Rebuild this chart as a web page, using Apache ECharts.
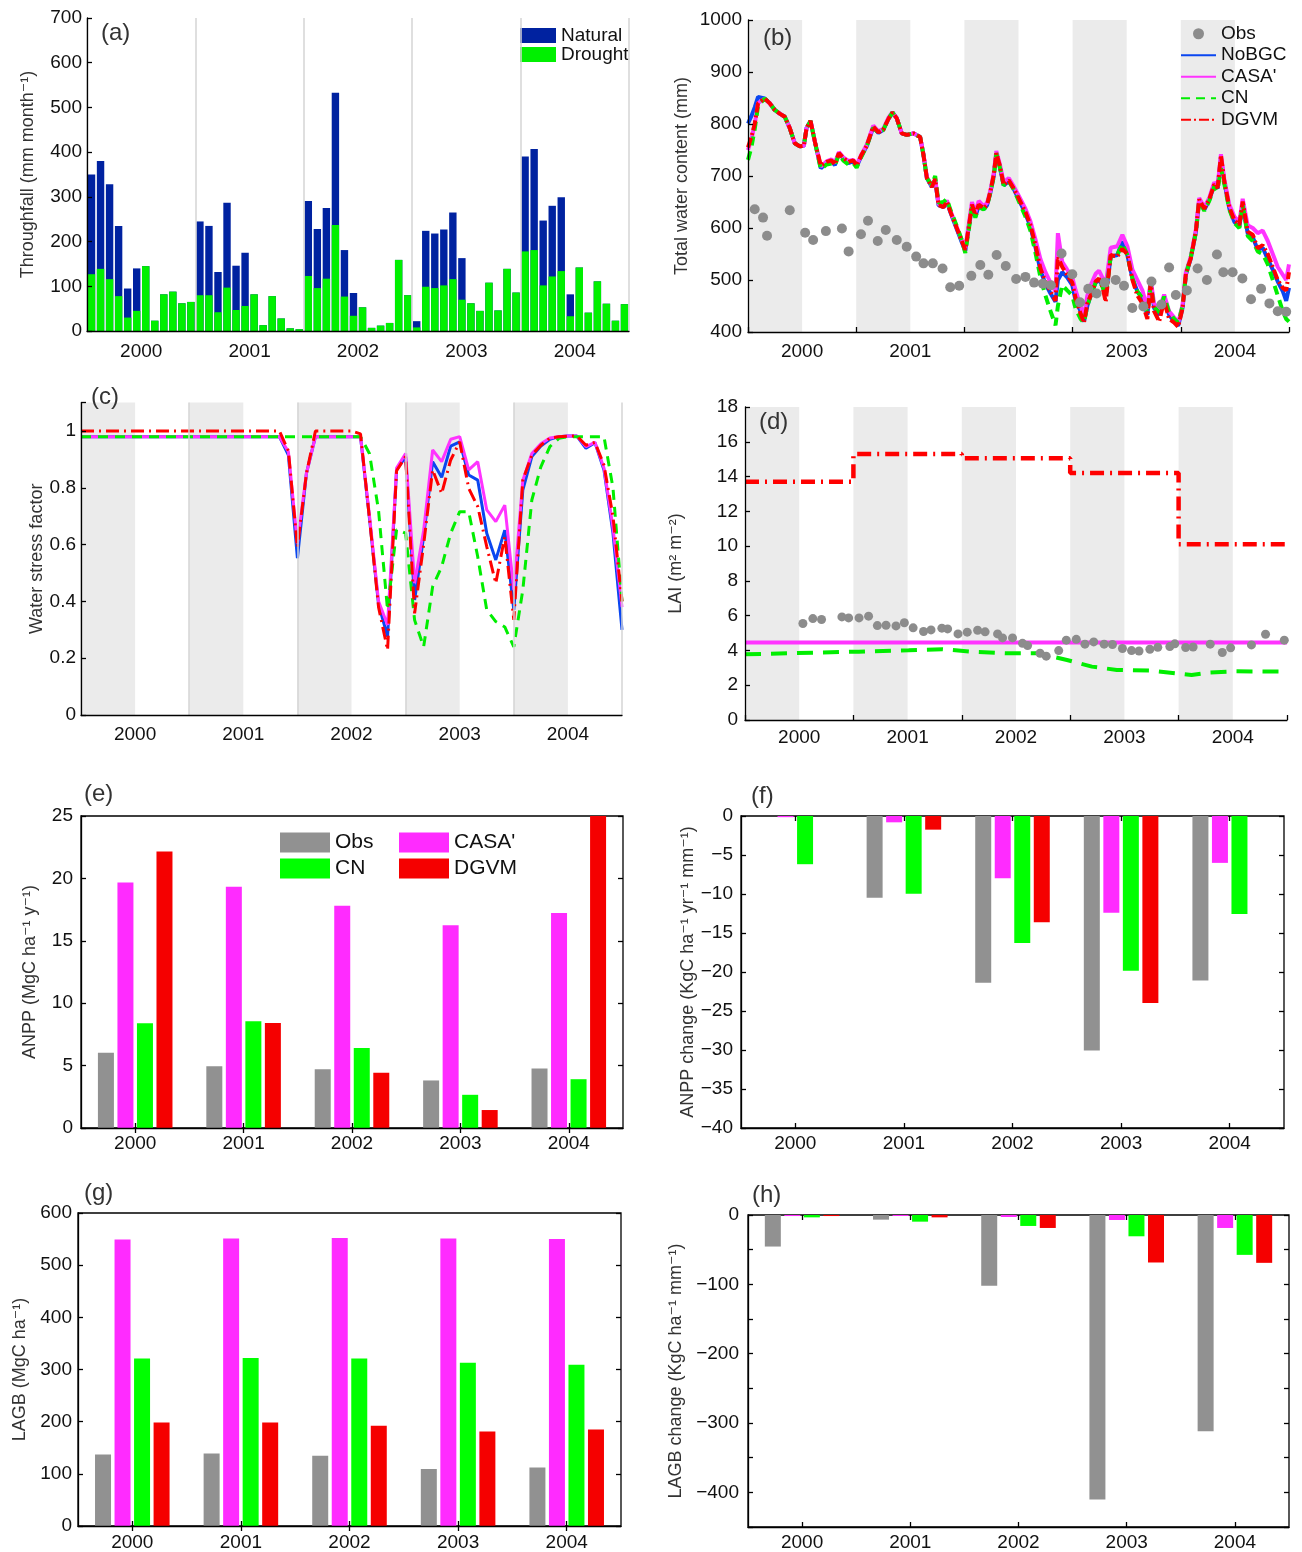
<!DOCTYPE html>
<html>
<head>
<meta charset="utf-8">
<script src="https://cdn.jsdelivr.net/npm/echarts@6/dist/echarts.min.js"></script>
<style>
  html, body { margin: 0; padding: 0; background: #fff; }
  #main { width: 1302px; height: 1552px; }
</style>
</head>
<body>
<div id="main"></div>
<script>
var FONT = '"Liberation Sans", Arial, Helvetica, "DejaVu Sans", sans-serif';
var TXT = '#111';
var AX = '#000';

var years = ['2000', '2001', '2002', '2003', '2004'];
// wet season (Jan-Jun) shading in b, c, d
var wetSeasons = [[2000, 2000.5], [2001, 2001.5], [2002, 2002.5], [2003, 2003.5], [2004, 2004.5]];

// (a) monthly throughfall, Jan 2000 .. Dec 2004
var tfNatural = [
  350, 380, 328, 235, 95, 140, 145, 23, 82, 88, 62, 65,
  245, 235, 132, 287, 146, 175, 82, 13, 78, 28, 6, 4,
  291, 228, 275, 533, 181, 85, 53, 7, 12, 18, 159, 80,
  22, 224, 218, 227, 265, 163, 62, 45, 108, 46, 139, 86,
  390, 407, 247, 280, 299, 82, 142, 41, 111, 61, 23, 60];
var tfDrought = [
  127, 139, 116, 78, 30, 45, 145, 23, 82, 88, 62, 65,
  80, 80, 42, 97, 47, 56, 82, 13, 78, 28, 6, 4,
  123, 96, 117, 237, 77, 34, 53, 7, 12, 18, 159, 80,
  8, 99, 96, 102, 116, 70, 62, 45, 108, 46, 139, 86,
  178, 181, 102, 122, 134, 33, 142, 41, 111, 61, 23, 60];

// (b) total water content (mm)
var twcTime = [
  2000.000, 2000.031, 2000.062, 2000.093, 2000.154, 2000.201, 2000.247, 2000.293, 2000.340, 2000.386,
  2000.432, 2000.479, 2000.516, 2000.541, 2000.578, 2000.618, 2000.673, 2000.726, 2000.772, 2000.803,
  2000.840, 2000.880, 2000.927, 2000.973, 2001.004, 2001.050, 2001.097, 2001.158, 2001.205, 2001.251,
  2001.298, 2001.335, 2001.375, 2001.421, 2001.467, 2001.529, 2001.591, 2001.622, 2001.653, 2001.699,
  2001.730, 2001.761, 2001.807, 2001.838, 2001.869, 2001.931, 2001.977, 2002.008, 2002.039, 2002.070,
  2002.101, 2002.132, 2002.178, 2002.209, 2002.240, 2002.271, 2002.295, 2002.326, 2002.363, 2002.410,
  2002.456, 2002.502, 2002.564, 2002.610, 2002.657, 2002.703, 2002.749, 2002.796, 2002.842, 2002.864,
  2002.904, 2002.950, 2002.997, 2003.028, 2003.074, 2003.105, 2003.136, 2003.167, 2003.213, 2003.244,
  2003.275, 2003.306, 2003.352, 2003.413, 2003.460, 2003.506, 2003.553, 2003.599, 2003.645, 2003.691,
  2003.722, 2003.753, 2003.800, 2003.846, 2003.892, 2003.939, 2003.976, 2004.016, 2004.047, 2004.093,
  2004.140, 2004.170, 2004.217, 2004.263, 2004.309, 2004.340, 2004.371, 2004.402, 2004.448, 2004.495,
  2004.541, 2004.572, 2004.618, 2004.665, 2004.711, 2004.757, 2004.804, 2004.850, 2004.896, 2004.943,
  2004.974, 2005.000];
var twcNoBGC = [
  801, 815, 832, 852, 849, 840, 827, 820, 814, 792,
  763, 757, 758, 792, 806, 766, 715, 725, 728, 721,
  744, 734, 725, 728, 718, 740, 757, 794, 783, 789,
  810, 822, 811, 782, 779, 782, 775, 740, 696, 679,
  692, 644, 640, 651, 631, 597, 572, 556, 599, 640,
  622, 642, 636, 644, 668, 700, 742, 719, 682, 690,
  675, 655, 628, 603, 563, 518, 493, 474, 458, 500,
  515, 505, 490, 460, 440, 420, 450, 470, 495, 500,
  490, 470, 545, 548, 574, 548, 503, 478, 465, 433,
  497, 446, 433, 465, 433, 420, 412, 446, 510, 542,
  593, 654, 635, 654, 683, 676, 735, 689, 638, 612,
  602, 646, 590, 582, 558, 562, 540, 520, 497, 478,
  460, 485];
var twcCASA = [
  750, 770, 800, 840, 849, 840, 827, 820, 814, 792,
  763, 757, 758, 792, 806, 766, 718, 728, 732, 725,
  746, 736, 729, 731, 721, 742, 760, 797, 786, 791,
  812, 823, 811, 782, 779, 782, 775, 742, 698, 681,
  694, 646, 642, 653, 634, 601, 576, 560, 605, 650,
  630, 652, 642, 648, 672, 705, 748, 724, 688, 696,
  680, 662, 637, 613, 578, 540, 515, 495, 478, 590,
  535, 520, 505, 480, 450, 430, 470, 490, 512, 518,
  505, 490, 562, 565, 587, 565, 520, 500, 480, 445,
  500, 455, 442, 472, 440, 428, 418, 452, 515, 545,
  598, 658, 640, 658, 688, 680, 742, 694, 645, 622,
  612, 656, 605, 600, 590, 595, 575, 550, 525, 510,
  500, 530];
var twcCN = [
  731, 755, 790, 835, 849, 840, 827, 820, 814, 792,
  763, 757, 758, 792, 806, 766, 713, 722, 724, 720,
  742, 730, 722, 725, 716, 738, 757, 793, 783, 789,
  810, 822, 811, 782, 779, 782, 775, 740, 696, 683,
  700, 648, 650, 656, 636, 603, 576, 552, 595, 640,
  620, 640, 636, 642, 668, 698, 744, 718, 682, 690,
  674, 652, 622, 595, 552, 505, 470, 440, 413, 450,
  490, 480, 470, 445, 425, 418, 450, 470, 495, 498,
  488, 470, 545, 548, 570, 548, 503, 478, 465, 438,
  490, 448, 438, 468, 438, 425, 418, 450, 510, 545,
  592, 652, 633, 652, 680, 672, 715, 685, 636, 610,
  600, 645, 585, 575, 555, 550, 530, 500, 470, 440,
  425, 420];
var twcDGVM = [
  755, 775, 800, 840, 849, 840, 827, 820, 814, 792,
  763, 757, 758, 792, 806, 766, 720, 727, 730, 722,
  744, 735, 727, 730, 720, 741, 758, 795, 784, 789,
  810, 822, 811, 782, 779, 782, 775, 740, 696, 679,
  694, 644, 640, 651, 632, 599, 574, 558, 600, 645,
  625, 645, 638, 644, 670, 702, 744, 721, 683, 692,
  676, 657, 631, 606, 567, 522, 497, 478, 460, 545,
  525, 510, 495, 465, 435, 418, 455, 470, 497, 503,
  488, 458, 548, 545, 560, 550, 500, 470, 455, 425,
  495, 440, 420, 460, 425, 418, 410, 445, 512, 542,
  595, 655, 637, 655, 684, 677, 740, 690, 640, 615,
  606, 651, 593, 587, 561, 567, 550, 525, 500, 485,
  480, 515];
var twcObsTime = [
  2000.062, 2000.139, 2000.176, 2000.386, 2000.528, 2000.602, 2000.720, 2000.868, 2000.930, 2001.044,
  2001.109, 2001.199, 2001.273, 2001.375, 2001.467, 2001.554, 2001.622, 2001.708, 2001.798, 2001.869,
  2001.952, 2002.064, 2002.147, 2002.221, 2002.298, 2002.382, 2002.478, 2002.564, 2002.644, 2002.725,
  2002.799, 2002.898, 2002.997, 2003.068, 2003.145, 2003.222, 2003.296, 2003.398, 2003.475, 2003.552,
  2003.654, 2003.729, 2003.821, 2003.892, 2003.954, 2004.056, 2004.155, 2004.241, 2004.334, 2004.393,
  2004.479, 2004.569, 2004.649, 2004.742, 2004.819, 2004.896, 2004.974];
var twcObs = [
  636, 620, 585, 634, 591, 577, 594, 599, 555, 588,
  614, 575, 596, 577, 564, 545, 532, 532, 522, 486,
  489, 508, 529, 510, 548, 527, 502, 506, 495, 493,
  490, 551, 511, 457, 483, 474, 495, 500, 489, 446,
  449, 497, 453, 524, 471, 480, 522, 500, 549, 515,
  515, 503, 463, 483, 455, 440, 439];

// (c) water stress factor, monthly from Jan 2000 to Jan 2005
var wsNoBGC = [
  0.98, 0.98, 0.98, 0.98, 0.98, 0.98, 0.98, 0.98, 0.98, 0.98, 0.98, 0.98,
  0.98, 0.98, 0.98, 0.98, 0.98, 0.98, 0.98, 0.98, 0.98, 0.98, 0.98, 0.915,
  0.552, 0.851, 0.98, 0.98, 0.98, 0.98, 0.98, 0.98, 0.69, 0.39, 0.276, 0.863,
  0.91, 0.405, 0.628, 0.892, 0.837, 0.947, 0.962, 0.845, 0.827, 0.64, 0.546, 0.651,
  0.37, 0.792, 0.91, 0.947, 0.971, 0.98, 0.982, 0.982, 0.939, 0.959, 0.863, 0.64,
  0.30];
var wsCASA = [
  0.98, 0.98, 0.98, 0.98, 0.98, 0.98, 0.98, 0.98, 0.98, 0.98, 0.98, 0.98,
  0.98, 0.98, 0.98, 0.98, 0.98, 0.98, 0.98, 0.98, 0.98, 0.98, 0.98, 0.927,
  0.604, 0.851, 0.98, 0.98, 0.98, 0.98, 0.98, 0.98, 0.70, 0.40, 0.317, 0.87,
  0.921, 0.464, 0.65, 0.933, 0.892, 0.971, 0.98, 0.863, 0.892, 0.722, 0.681, 0.739,
  0.44, 0.827, 0.921, 0.955, 0.975, 0.98, 0.982, 0.982, 0.945, 0.96, 0.87, 0.66,
  0.38];
var wsCN = [
  0.98, 0.98, 0.98, 0.98, 0.98, 0.98, 0.98, 0.98, 0.98, 0.98, 0.98, 0.98,
  0.98, 0.98, 0.98, 0.98, 0.98, 0.98, 0.98, 0.98, 0.98, 0.98, 0.98, 0.98,
  0.98, 0.98, 0.98, 0.98, 0.98, 0.98, 0.98, 0.98, 0.92, 0.72, 0.37, 0.653,
  0.64, 0.334, 0.24, 0.452, 0.522, 0.64, 0.716, 0.716, 0.557, 0.37, 0.329, 0.31,
  0.24, 0.44, 0.757, 0.874, 0.945, 0.974, 0.98, 0.98, 0.98, 0.98, 0.98, 0.80,
  0.40];
var wsDGVM = [
  1.0, 1.0, 1.0, 1.0, 1.0, 1.0, 1.0, 1.0, 1.0, 1.0, 1.0, 1.0,
  1.0, 1.0, 1.0, 1.0, 1.0, 1.0, 1.0, 1.0, 1.0, 1.0, 1.0, 0.93,
  0.59, 0.85, 1.0, 1.0, 1.0, 1.0, 1.0, 0.99, 0.69, 0.38, 0.229, 0.86,
  0.91, 0.358, 0.60, 0.863, 0.78, 0.898, 0.962, 0.798, 0.734, 0.593, 0.464, 0.628,
  0.335, 0.827, 0.915, 0.95, 0.975, 0.98, 0.982, 0.982, 0.95, 0.96, 0.88, 0.70,
  0.40];

// (d) LAI
var laiObsTime = [
  2000.534, 2000.626, 2000.706, 2000.894, 2000.956, 2001.052, 2001.140, 2001.221, 2001.301, 2001.393,
  2001.470, 2001.551, 2001.647, 2001.716, 2001.816, 2001.869, 2001.965, 2002.050, 2002.146, 2002.215,
  2002.330, 2002.376, 2002.468, 2002.560, 2002.607, 2002.722, 2002.779, 2002.894, 2002.964, 2003.056,
  2003.136, 2003.217, 2003.313, 2003.390, 2003.482, 2003.566, 2003.635, 2003.735, 2003.808, 2003.919,
  2003.965, 2004.065, 2004.134, 2004.292, 2004.403, 2004.480, 2004.672, 2004.802, 2004.975];
var laiObs = [
  5.55, 5.83, 5.78, 5.93, 5.87, 5.87, 5.97, 5.43, 5.45, 5.41,
  5.59, 5.30, 5.09, 5.18, 5.28, 5.24, 4.95, 5.05, 5.16, 5.07,
  4.95, 4.72, 4.72, 4.41, 4.28, 3.84, 3.67, 3.99, 4.59, 4.64,
  4.36, 4.49, 4.36, 4.34, 4.11, 3.99, 3.97, 4.07, 4.18, 4.22,
  4.38, 4.17, 4.20, 4.36, 3.88, 4.15, 4.32, 4.93, 4.59];
var laiCASATime = [2000, 2005];
var laiCASA = [4.45, 4.45];
var laiCNTime = [2000.0, 2000.67, 2001.05, 2001.51, 2001.82, 2002.09, 2002.40, 2002.70, 2002.97,
  2003.20, 2003.43, 2003.74, 2003.97, 2004.12, 2004.28, 2004.51, 2005.0];
var laiCN = [3.78, 3.88, 3.93, 4.01, 4.07, 3.93, 3.84, 3.84, 3.45, 3.07, 2.88, 2.84, 2.69, 2.59, 2.73, 2.80, 2.78];
var laiDGVMTime = [2000, 2001, 2002, 2003, 2004, 2005];
var laiDGVM = [13.7, 15.3, 15.05, 14.2, 10.1, 10.1];

// (e) ANPP (MgC ha-1 y-1)
var anppObs = [6.02, 4.95, 4.71, 3.81, 4.77];
var anppCASA = [19.67, 19.33, 17.81, 16.24, 17.23];
var anppCN = [8.39, 8.55, 6.42, 2.66, 3.91];
var anppDGVM = [22.15, 8.41, 4.42, 1.44, 25];
// (f) ANPP change
var anppChgObs = [null, -10.48, -21.38, -30.08, -21.09];
var anppChgCASA = [-0.15, -0.81, -7.97, -12.40, -6.01];
var anppChgCN = [-6.18, -9.97, -16.27, -19.85, -12.57];
var anppChgDGVM = [0.25, -1.75, -13.63, -23.98, null];
// (g) LAGB (MgC ha-1)
var lagbObs = [137, 139, 134.5, 109.5, 112];
var lagbCASA = [549, 551, 552, 551, 550];
var lagbCN = [321, 322, 321, 313, 309];
var lagbDGVM = [198.5, 198.5, 192, 181, 185];
// (h) LAGB change
var lagbChgObs = [-45.5, -6.7, -102, -410.5, -311.9];
var lagbChgCASA = [-1.5, -1.4, -2.9, -7.2, -18.7];
var lagbChgCN = [-3.4, -9.6, -15.8, -30.7, -57.5];
var lagbChgDGVM = [-1.5, -3.4, -18.7, -68.5, -69];

var C_BLUE = '#0a46f0', C_MAG = '#ff33ff', C_GREEN = '#00ee00', C_RED = '#ff0000', C_GRAY = '#8c8c8c';
var C_BAR_GRAY = '#919191', C_BAR_MAG = '#ff2bff', C_BAR_GREEN = '#00ff00', C_BAR_RED = '#f50000';

function pairs(xs, ys) {
  return xs.map(function (x, i) { return [x, ys[i]]; });
}
function monthMid(vals) {
  return vals.map(function (v, i) { return [2000 + (i + 0.5) / 12, v]; });
}
function monthStart(vals) {
  return vals.map(function (v, i) { return [2000 + i / 12, v]; });
}
function midYearLabel(v) {
  var f = Math.floor(v + 1e-9);
  return Math.abs(v - f - 0.5) < 1e-6 ? String(f) : '';
}
function plainLabel(v) {
  return String(v);
}
function minusLabel(v) {
  return v < 0 ? '\u2212' + (-v) : String(v);
}

var myChart = echarts.init(document.getElementById('main'));

var boxGrid = {show: true, borderColor: AX, borderWidth: 1.3, backgroundColor: 'transparent'};
function grid(l, t, w, h, box) {
  var g = {left: l, top: t, width: w, height: h, containLabel: false, outerBoundsMode: 'none'};
  if (box) { for (var k in boxGrid) g[k] = boxGrid[k]; }
  return g;
}
var grids = [
  grid(87, 18, 542, 313),          // a
  grid(748, 20, 541, 312),         // b
  grid(81, 402.6, 541, 312.4),     // c
  grid(745, 407, 542, 313),        // d
  grid(81, 816, 542, 312, true),   // e
  grid(741, 816, 543, 312, true),  // f
  grid(78, 1213, 543, 313, true),  // g
  grid(748, 1215, 541, 312, true)  // h
];

var xAxes = [];
var yAxes = [];
var tickStyle = {color: AX, width: 1.3};

// time panels: one axis for line/ticks/splitlines, one for mid-year labels
function addTimeX(gi, ticks, split, margin) {
  xAxes.push({
    type: 'value', gridIndex: gi, position: 'bottom', min: 2000, max: 2005, interval: 1, z: 5,
    axisLine: {show: true, onZero: false, lineStyle: {color: AX, width: 1.3}},
    axisTick: {show: ticks, inside: true, length: 5, lineStyle: tickStyle},
    axisLabel: {show: false},
    splitLine: {show: split, lineStyle: {color: '#d4d4d4', width: 1.5}}
  });
  xAxes.push({
    type: 'value', gridIndex: gi, position: 'bottom', min: 2000, max: 2005, interval: 0.5,
    axisLine: {show: false}, axisTick: {show: false}, splitLine: {show: false},
    axisLabel: {show: true, color: TXT, fontSize: 19, fontFamily: FONT, margin: margin, formatter: midYearLabel}
  });
}
function addCatX(gi, margin) {
  xAxes.push({
    type: 'category', gridIndex: gi, position: 'bottom', data: years, z: 5,
    axisLine: {show: true, onZero: false, lineStyle: {color: AX, width: 1.3}},
    axisTick: {show: true, inside: true, alignWithLabel: true, length: 5, lineStyle: tickStyle},
    axisLabel: {color: TXT, fontSize: 19, fontFamily: FONT, margin: margin},
    splitLine: {show: false}
  });
  xAxes.push({
    type: 'category', gridIndex: gi, position: 'top', data: years,
    axisLine: {show: false},
    axisTick: {show: true, inside: true, alignWithLabel: true, length: 5, lineStyle: tickStyle},
    axisLabel: {show: false}, splitLine: {show: false}
  });
}
function addY(gi, min, max, interval, name, nameGap, margin, fmt) {
  yAxes.push({
    type: 'value', gridIndex: gi, position: 'left', min: min, max: max, interval: interval, z: 5,
    name: name, nameLocation: 'middle', nameRotate: 90, nameGap: nameGap,
    nameTextStyle: {color: '#333', fontSize: 18, fontFamily: FONT},
    axisLine: {show: true, onZero: false, lineStyle: {color: AX, width: 1.3}},
    axisTick: {show: true, inside: true, length: 5, lineStyle: tickStyle},
    axisLabel: {color: TXT, fontSize: 19, fontFamily: FONT, margin: margin, formatter: fmt || plainLabel},
    splitLine: {show: false}
  });
}
function addRightY(gi, min, max, interval) {
  yAxes.push({
    type: 'value', gridIndex: gi, position: 'right', min: min, max: max, interval: interval,
    axisLine: {show: false},
    axisTick: {show: true, inside: true, length: 5, lineStyle: tickStyle},
    axisLabel: {show: false}, splitLine: {show: false}
  });
}

// x axes: a 0/1, b 2/3, c 4/5, d 6/7, e 8/9, f 10/11, g 12/13, h 14/15
addTimeX(0, false, true, 11);
addTimeX(1, true, false, 10);
addTimeX(2, false, true, 10);
addTimeX(3, true, false, 8);
addCatX(4, 6);
addCatX(5, 6);
addCatX(6, 7);
addCatX(7, 6);

// y axes: a 0, b 1, c 2, d 3, e 4/5, f 6/7, g 8/9, h 10/11
addY(0, 0, 700, 100, 'Throughfall (mm month\u207B\u00B9)', 50, 5);
addY(1, 400, 1000, 100, 'Total water content (mm)', 57, 6);
addY(2, 0, 1.1, 0.2, 'Water stress factor', 35, 5, function (v) {
  return Math.abs(v - 1.1) < 1e-6 ? '' : String(Math.round(v * 10) / 10);
});
addY(3, 0, 18, 2, 'LAI (m\u00B2 m\u207B\u00B2)', 60, 7);
addY(4, 0, 25, 5, 'ANPP (MgC ha\u207B\u00B9 y\u207B\u00B9)', 42, 8);
addRightY(4, 0, 25, 5);
addY(5, -40, 0, 5, 'ANPP change (KgC ha\u207B\u00B9 yr\u207B\u00B9 mm\u207B\u00B9)', 42, 8, minusLabel);
addRightY(5, -40, 0, 5);
addY(6, 0, 600, 100, 'LAGB (MgC ha\u207B\u00B9)', 49, 6);
addRightY(6, 0, 600, 100);
addY(7, -450, 0, 50, 'LAGB change (KgC ha\u207B\u00B9 mm\u207B\u00B9)', 63, 9, function (v) {
  return v % 100 !== 0 ? '' : minusLabel(v);
});
addRightY(7, -450, 0, 50);

function shade() {
  return {
    silent: true,
    itemStyle: {color: '#ebebeb'},
    data: wetSeasons.map(function (s) { return [{xAxis: s[0]}, {xAxis: s[1]}]; })
  };
}
function lineSeries(name, data, color, width, dash, xi, yi, withShade) {
  var s = {
    name: name, type: 'line', xAxisIndex: xi, yAxisIndex: yi, data: data,
    symbol: 'none', silent: true,
    lineStyle: {color: color, width: width, type: dash, cap: 'butt'},
    itemStyle: {color: color}
  };
  if (withShade) s.markArea = shade();
  return s;
}
function dotSeries(name, data, size, xi, yi) {
  return {
    name: name, type: 'scatter', xAxisIndex: xi, yAxisIndex: yi, data: data, z: 4,
    symbol: 'circle', symbolSize: size, silent: true, itemStyle: {color: C_GRAY, opacity: 1}
  };
}
function barSeries(name, data, color, xi, yi) {
  return {
    name: name, type: 'bar', xAxisIndex: xi, yAxisIndex: yi, data: data, silent: true,
    barWidth: 16, barGap: '22%', itemStyle: {color: color}
  };
}

var series = [
  // (b) first, so its legend picks up these line styles
  lineSeries('NoBGC', pairs(twcTime, twcNoBGC), C_BLUE, 4, 'solid', 2, 1, true),
  lineSeries("CASA'", pairs(twcTime, twcCASA), C_MAG, 4, 'solid', 2, 1),
  lineSeries('CN', pairs(twcTime, twcCN), C_GREEN, 4, [9, 6], 2, 1),
  lineSeries('DGVM', pairs(twcTime, twcDGVM), C_RED, 4, [10, 3, 2, 3], 2, 1),
  dotSeries('Obs', pairs(twcObsTime, twcObs), 10, 2, 1),

  // (a)
  {name: 'Natural', type: 'bar', xAxisIndex: 0, yAxisIndex: 0, data: monthMid(tfNatural), silent: true,
    barWidth: 7.4, barGap: '-100%', itemStyle: {color: '#0022a0'}},
  {name: 'Drought', type: 'bar', xAxisIndex: 0, yAxisIndex: 0, data: monthMid(tfDrought), silent: true,
    barWidth: 7.4, barGap: '-100%', itemStyle: {color: '#00f000'}},

  // (c)
  lineSeries('NoBGC', monthStart(wsNoBGC), C_BLUE, 3, 'solid', 4, 2, true),
  lineSeries("CASA'", monthStart(wsCASA), C_MAG, 3, 'solid', 4, 2),
  lineSeries('CN', monthStart(wsCN), C_GREEN, 3, [10, 7], 4, 2),
  lineSeries('DGVM', monthStart(wsDGVM), C_RED, 3, [13, 5, 2, 5], 4, 2),

  // (d)
  lineSeries('CN', pairs(laiCNTime, laiCN), C_GREEN, 4, [16, 10], 6, 3, true),
  lineSeries("CASA'", pairs(laiCASATime, laiCASA), C_MAG, 4, 'solid', 6, 3),
  (function () {
    var s = lineSeries('DGVM', pairs(laiDGVMTime, laiDGVM), C_RED, 4.5, [14, 6, 2, 6], 6, 3);
    s.step = 'end';
    return s;
  })(),
  dotSeries('Obs', pairs(laiObsTime, laiObs), 9, 6, 3),

  // (e)
  barSeries('Obs', anppObs, C_BAR_GRAY, 8, 4),
  barSeries("CASA'", anppCASA, C_BAR_MAG, 8, 4),
  barSeries('CN', anppCN, C_BAR_GREEN, 8, 4),
  barSeries('DGVM', anppDGVM, C_BAR_RED, 8, 4),
  // (f)
  barSeries('Obs', anppChgObs, C_BAR_GRAY, 10, 6),
  barSeries("CASA'", anppChgCASA, C_BAR_MAG, 10, 6),
  barSeries('CN', anppChgCN, C_BAR_GREEN, 10, 6),
  barSeries('DGVM', anppChgDGVM, C_BAR_RED, 10, 6),
  // (g)
  barSeries('Obs', lagbObs, C_BAR_GRAY, 12, 8),
  barSeries("CASA'", lagbCASA, C_BAR_MAG, 12, 8),
  barSeries('CN', lagbCN, C_BAR_GREEN, 12, 8),
  barSeries('DGVM', lagbDGVM, C_BAR_RED, 12, 8),
  // (h)
  barSeries('Obs', lagbChgObs, C_BAR_GRAY, 14, 10),
  barSeries("CASA'", lagbChgCASA, C_BAR_MAG, 14, 10),
  barSeries('CN', lagbChgCN, C_BAR_GREEN, 14, 10),
  barSeries('DGVM', lagbChgDGVM, C_BAR_RED, 14, 10)
];

function panelTitle(txt, l, t) {
  return {text: txt, left: l, top: t, padding: 0,
    textStyle: {fontSize: 24, fontWeight: 'normal', color: '#333', fontFamily: FONT}};
}

var hideDot = {opacity: 0};
function rectItem(name, color) {
  return {name: name, icon: 'rect', itemStyle: {color: color, borderWidth: 0, borderType: 'solid', opacity: 1}};
}
var legendText = function (size, lh) {
  return {color: TXT, fontSize: size, lineHeight: lh, fontFamily: FONT};
};

option = {
  animation: false,
  backgroundColor: '#fff',
  textStyle: {fontFamily: FONT},
  title: [
    panelTitle('(a)', 101, 21), panelTitle('(b)', 763, 26),
    panelTitle('(c)', 91, 385), panelTitle('(d)', 759, 410),
    panelTitle('(e)', 84, 782), panelTitle('(f)', 751, 784),
    panelTitle('(g)', 84, 1181), panelTitle('(h)', 752, 1183)
  ],
  grid: grids,
  legend: [
    {
      left: 520, top: 26, orient: 'vertical', padding: 0, itemGap: 0,
      itemWidth: 36, itemHeight: 15, selectedMode: false,
      textStyle: legendText(19, 19),
      data: [rectItem('Natural', '#0022a0'), rectItem('Drought', '#00f000')]
    },
    {
      left: 1180, top: 23, orient: 'vertical', padding: 0, itemGap: 0,
      itemWidth: 35, itemHeight: 11, selectedMode: false,
      textStyle: legendText(19, 21.5),
      data: [
        {name: 'Obs', icon: 'circle'},
        {name: 'NoBGC', itemStyle: hideDot},
        {name: "CASA'", itemStyle: hideDot},
        {name: 'CN', itemStyle: hideDot},
        {name: 'DGVM', itemStyle: hideDot}
      ]
    },
    {
      left: 280, top: 832, orient: 'vertical', padding: 0, itemGap: 5,
      itemWidth: 50, itemHeight: 20, selectedMode: false,
      textStyle: legendText(21, 20),
      data: [rectItem('Obs', C_BAR_GRAY), rectItem('CN', C_BAR_GREEN)]
    },
    {
      left: 399, top: 832, orient: 'vertical', padding: 0, itemGap: 5,
      itemWidth: 50, itemHeight: 20, selectedMode: false,
      textStyle: legendText(21, 20),
      data: [rectItem("CASA'", C_BAR_MAG), rectItem('DGVM', C_BAR_RED)]
    }
  ],
  xAxis: xAxes,
  yAxis: yAxes,
  series: series
};

myChart.setOption(option);
</script>
</body>
</html>
